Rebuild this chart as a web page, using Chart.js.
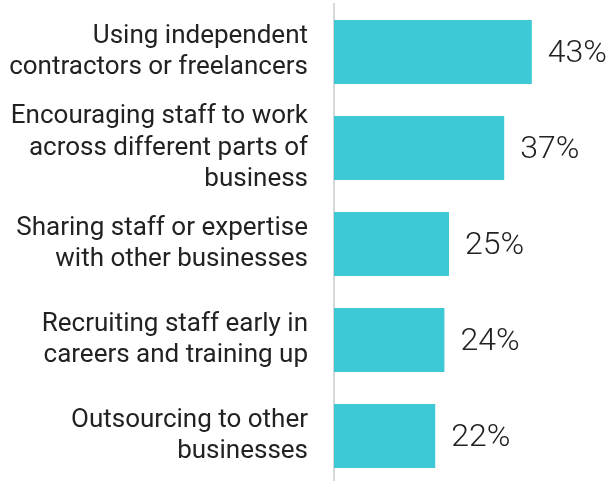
<!DOCTYPE html>
<html>
<head>
<meta charset="utf-8">
<script src="https://cdn.jsdelivr.net/npm/chart.js@4"></script>
<style>
	html, body { margin: 0; padding: 0; background: #fff; overflow: hidden; }
	#wrap { position: relative; width: 610px; height: 484px; }
</style>
</head>
<body>
<div id="wrap"><canvas id="chart"></canvas></div>
<script>
const categories = [
	['Using independent', 'contractors or freelancers'],
	['Encouraging staff to work', 'across different parts of', 'business'],
	['Sharing staff or expertise', 'with other businesses'],
	['Recruiting staff early in', 'careers and training up'],
	['Outsourcing to other', 'businesses']
];
const values = [43, 37, 25, 24, 22];

const valueLabels = {
	id: 'valueLabels',
	afterDatasetsDraw(chart) {
		const ctx = chart.ctx;
		const meta = chart.getDatasetMeta(0);
		ctx.save();
		ctx.font = '300 32px Roboto';
		ctx.fillStyle = '#222';
		ctx.textBaseline = 'middle';
		ctx.textAlign = 'left';
		meta.data.forEach((bar, i) => {
			ctx.fillText(values[i] + '%', bar.x + 16, bar.y + 2);
		});
		ctx.restore();
	}
};

new Chart(document.getElementById('chart').getContext('2d'), {
	type: 'bar',
	data: {
		labels: categories,
		datasets: [{
			data: values,
			backgroundColor: '#3cc8d4',
			borderWidth: 0,
			barPercentage: 0.667,
			categoryPercentage: 1
		}]
	},
	options: {
		indexAxis: 'y',
		responsive: true,
		maintainAspectRatio: false,
		animation: false,
		layout: { padding: { top: 4, bottom: 0, left: 0, right: 0 } },
		plugins: {
			legend: { display: false },
			tooltip: { enabled: false }
		},
		scales: {
			x: {
				display: false,
				min: 0,
				max: 60
			},
			y: {
				afterFit(scale) {
					scale.width = 334;
					scale.paddingTop = 0;
					scale.paddingBottom = 0;
				},
				grid: { display: false, drawTicks: false },
				border: { display: true, color: '#d9d9d9', width: 2 },
				ticks: {
					color: '#222',
					padding: 26,
					autoSkip: false,
					font: { family: 'Roboto', size: 26, lineHeight: 1.22 }
				}
			}
		}
	},
	plugins: [valueLabels]
});
</script>
</body>
</html>
